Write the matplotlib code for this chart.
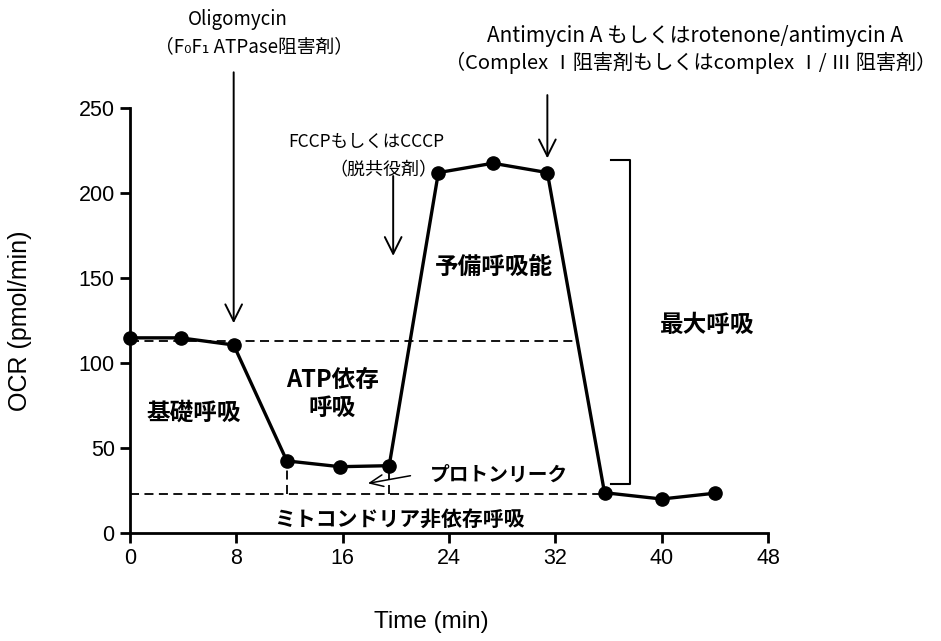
import matplotlib
matplotlib.use("Agg")
import matplotlib.pyplot as plt

# Mito stress test trace: oxygen consumption rate over time
time_min = [0, 3.8, 7.8, 11.8, 15.8, 19.5, 23.2, 27.3, 31.4, 35.7, 40, 44]
ocr = [114.8, 114.8, 110.6, 42.4, 39.0, 39.6, 212.0, 217.5, 212.0, 23.7, 20.0, 23.4]

basal_level = 113.0
non_mito_level = 22.8
basal_end = 33.8

x_ticks = [0, 8, 16, 24, 32, 40, 48]
y_ticks = [0, 50, 100, 150, 200, 250]

# injection arrows: (x, y_start, y_end)
oligo_arrow = (7.8, 271.0, 123.4)
fccp_arrow = (19.8, 210.0, 163.0)
anti_arrow = (31.4, 257.6, 220.4)

# maximal-respiration bracket
bracket_x = (36.2, 37.6)
bracket_y = (28.6, 219.2)

JP = ["Noto Sans CJK JP", "DejaVu Sans"]
LAT = ["Liberation Sans", "DejaVu Sans"]

fig = plt.figure(figsize=(9.41, 6.41), dpi=100)
ax = fig.add_axes([130 / 941, 108 / 641, 638 / 941, 425 / 641])

ax.set_xlim(0, 48)
ax.set_ylim(0, 250)
for s in ("top", "right"):
    ax.spines[s].set_visible(False)
for s in ("left", "bottom"):
    ax.spines[s].set_linewidth(2.0)
ax.set_xticks(x_ticks)
ax.set_yticks(y_ticks)
ax.tick_params(direction="out", length=7, width=2.0, labelsize=15.5, pad=4)
for lab in ax.get_xticklabels() + ax.get_yticklabels():
    lab.set_family(LAT)

ax.set_xlabel("Time (min)", fontsize=17.5, family=LAT)
ax.xaxis.set_label_coords((431 - 130) / 638, -(622 - 533) / 425)
ax.xaxis.label.set_va("center")
ax.set_ylabel("OCR (pmol/min)", fontsize=18, family=LAT)
ax.yaxis.set_label_coords(-(130 - 20) / 638, 0.5)
ax.yaxis.label.set_va("center")

dash = (0, (5, 3))
ax.plot([0, basal_end], [basal_level, basal_level], ls=dash, lw=1.3, color="k")
ax.plot([0, time_min[9]], [non_mito_level, non_mito_level], ls=dash, lw=1.3, color="k")
ax.plot([time_min[3], time_min[3]], [non_mito_level, ocr[3]], ls=dash, lw=1.3, color="k")
ax.plot([time_min[5], time_min[5]], [non_mito_level, ocr[5]], ls=dash, lw=1.3, color="k")

ax.plot(time_min, ocr, "-o", color="k", lw=2.4, ms=9.5, clip_on=False, zorder=5)

arrow_kw = dict(arrowstyle="->,head_length=0.8,head_width=0.4", lw=1.4, color="k",
                mutation_scale=15, shrinkA=0, shrinkB=0)
for x, y0, y1 in (oligo_arrow, fccp_arrow, anti_arrow):
    ax.annotate("", xy=(x, y1), xytext=(x, y0), arrowprops=arrow_kw,
                annotation_clip=False)

# proton leak pointer
ax.annotate("", xy=(17.9, 29.2), xytext=(21.1, 33.7),
            arrowprops=dict(arrowstyle="->,head_length=0.8,head_width=0.35", lw=1.1,
                            color="k", mutation_scale=12, shrinkA=0, shrinkB=0))

ax.plot([bracket_x[0], bracket_x[1], bracket_x[1], bracket_x[0]],
        [bracket_y[1], bracket_y[1], bracket_y[0], bracket_y[0]],
        color="k", lw=1.5, clip_on=False)

top_kw = dict(family=JP, ha="center", va="center", clip_on=False)
ax.text(8.1, 301.8, "Oligomycin", fontsize=13.5, **top_kw)
ax.text(9.3, 285.9, "（F₀F₁ ATPase阻害剤）", fontsize=13.5, **top_kw)
ax.text(17.8, 230.0, "FCCPもしくはCCCP", fontsize=12.5, **top_kw)
ax.text(19.1, 213.5, "（脱共役剤）", fontsize=13, **top_kw)
ax.text(42.5, 292.4, "Antimycin A もしくはrotenone/antimycin A", fontsize=15, **top_kw)
ax.text(42.2, 276.5, "（Complex Ⅰ阻害剤もしくはcomplex Ⅰ/ Ⅲ 阻害剤）", fontsize=14.5, **top_kw)

bold_kw = dict(family=JP, fontweight="bold", ha="center", va="center")
ax.text(4.8, 70.6, "基礎呼吸", fontsize=17, **bold_kw)
ax.text(15.2, 82.0, "ATP依存\n呼吸", linespacing=1.2, fontsize=17, **bold_kw)
ax.text(27.4, 156.3, "予備呼吸能", fontsize=17, **bold_kw)
ax.text(27.8, 34.1, "プロトンリーク", fontsize=14.2, **bold_kw)
ax.text(20.3, 8.2, "ミトコンドリア非依存呼吸", fontsize=15, **bold_kw)
ax.text(43.4, 122.4, "最大呼吸", fontsize=17, **bold_kw)

fig.savefig("out.png", dpi=100, facecolor="white")
